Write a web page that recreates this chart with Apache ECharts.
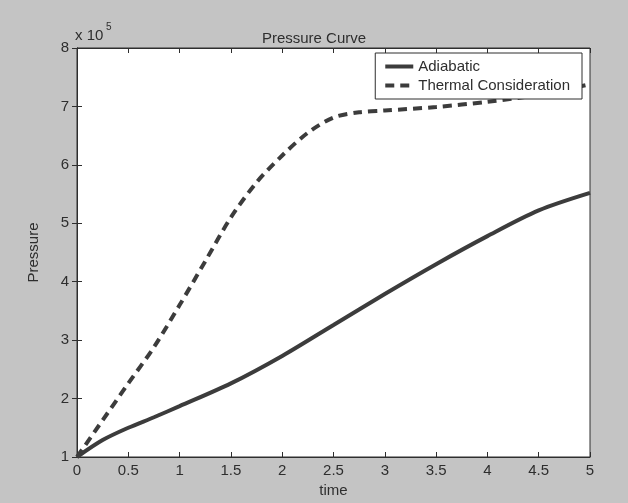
<!DOCTYPE html>
<html>
<head>
<meta charset="utf-8">
<script src="https://cdn.jsdelivr.net/npm/echarts@6/dist/echarts.min.js"></script>
<style>
  html,body{margin:0;padding:0;background:#c4c4c4;}
  #chart{width:628px;height:503px;}
</style>
</head>
<body>
<div id="chart"></div>
<script>
// time axis ticks
var xTicks = [0, 0.5, 1, 1.5, 2, 2.5, 3, 3.5, 4, 4.5, 5];
// pressure in units of 10^5
var timeA = [0, 0.25, 0.5, 0.75, 1, 1.5, 2, 2.5, 3, 3.5, 4, 4.5, 5];
var adiabatic = [1.0, 1.29, 1.5, 1.68, 1.87, 2.26, 2.73, 3.26, 3.79, 4.3, 4.78, 5.22, 5.52];
var timeT = [0, 0.25, 0.5, 0.75, 1, 1.25, 1.5, 1.75, 2, 2.25, 2.5, 2.75, 3, 3.5, 4, 4.5, 5];
var thermal = [1.0, 1.63, 2.26, 2.88, 3.6, 4.35, 5.1, 5.7, 6.16, 6.55, 6.81, 6.9, 6.93, 6.99, 7.08, 7.2, 7.38];

function pairs(xs, ys) {
    var out = [];
    for (var i = 0; i < xs.length; i++) out.push([xs[i], ys[i]]);
    return out;
}

var ink = '#2e2e2e';
var lineInk = '#3c3c3c';
var font = 'Liberation Sans, Arial, sans-serif';

var boxAxis = {
    axisLine: {show: true, lineStyle: {color: ink, width: 1}},
    axisTick: {show: true, inside: true, length: 5, lineStyle: {color: ink}},
    splitLine: {show: false}
};

var option = {
    backgroundColor: '#c4c4c4',
    animation: false,
    title: {
        text: 'Pressure Curve',
        left: 'center',
        top: 26,
        textStyle: {color: ink, fontSize: 15, fontWeight: 'normal', fontFamily: font}
    },
    graphic: [{
        type: 'text',
        left: 75,
        top: 28,
        style: {text: 'x 10', fill: ink, font: '15px ' + font}
    }, {
        type: 'text',
        left: 106,
        top: 22,
        style: {text: '5', fill: ink, font: '10px ' + font}
    }],
    legend: {
        orient: 'vertical',
        right: 46,
        top: 53,
        data: ['Adiabatic', 'Thermal Consideration'],
        backgroundColor: '#fff',
        borderColor: ink,
        borderWidth: 1,
        borderRadius: 0,
        padding: [6, 12, 6, 8],
        itemGap: 4,
        itemWidth: 28,
        itemHeight: 14,
        itemStyle: {opacity: 0},
        lineStyle: {width: 4},
        textStyle: {color: ink, fontSize: 15, fontFamily: font}
    },
    grid: {
        left: 77, right: 38, top: 48, bottom: 45,
        show: true, backgroundColor: '#fff', borderColor: ink, borderWidth: 1
    },
    xAxis: [
        Object.assign({
            type: 'value', min: 0, max: 5, interval: 0.5,
            name: 'time', nameLocation: 'middle', nameGap: 26,
            nameTextStyle: {color: ink, fontSize: 15, fontFamily: font},
            axisLabel: {color: ink, fontSize: 15, fontFamily: font, margin: 6}
        }, boxAxis),
        Object.assign({
            type: 'value', min: 0, max: 5, interval: 0.5, position: 'top',
            axisLabel: {show: false}
        }, boxAxis)
    ],
    yAxis: [
        Object.assign({
            type: 'value', min: 1, max: 8, interval: 1,
            name: 'Pressure', nameLocation: 'middle', nameGap: 36,
            nameTextStyle: {color: ink, fontSize: 15, fontFamily: font},
            axisLabel: {color: ink, fontSize: 15, fontFamily: font, margin: 8}
        }, boxAxis),
        Object.assign({
            type: 'value', min: 1, max: 8, interval: 1, position: 'right',
            axisLabel: {show: false}
        }, boxAxis)
    ],
    series: [{
        name: 'Adiabatic',
        type: 'line',
        smooth: 0.3,
        symbol: 'none',
        data: pairs(timeA, adiabatic),
        lineStyle: {color: lineInk, width: 4},
        itemStyle: {color: lineInk}
    }, {
        name: 'Thermal Consideration',
        type: 'line',
        smooth: 0.3,
        symbol: 'none',
        data: pairs(timeT, thermal),
        lineStyle: {color: lineInk, width: 4, type: [9, 6]},
        itemStyle: {color: lineInk}
    }]
};

var myChart = echarts.init(document.getElementById('chart'));
myChart.setOption(option);
</script>
</body>
</html>
